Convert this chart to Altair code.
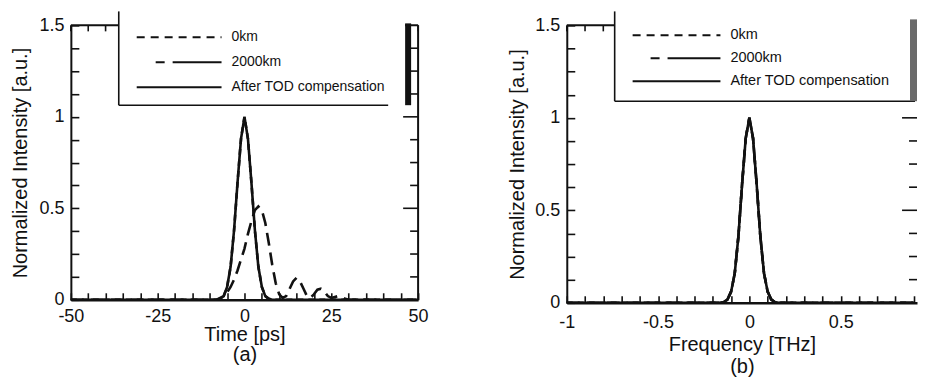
import altair as alt
import pandas as pd

# ---------------- data ----------------
time_ps = [-50, -20, -10, -8, -7, -6, -5, -4, -3, -2, -1, 0, 1, 2, 3, 4, 5, 6, 7, 8,
           9, 10, 11, 12, 13, 14, 15, 16, 17, 18, 19, 20, 21, 22, 23, 24, 25, 26, 27,
           28, 29, 30, 35, 50]
intensity_after_tod = [0, 0, 0, 0, 0.005, 0.02, 0.07, 0.18, 0.38, 0.64, 0.88, 1.0, 0.88,
                       0.64, 0.38, 0.18, 0.07, 0.02, 0.005, 0,
                       0, 0, 0, 0, 0, 0, 0, 0, 0, 0, 0, 0, 0, 0, 0, 0, 0, 0, 0, 0, 0, 0, 0, 0]
intensity_0km = [0, 0, 0, 0, 0.005, 0.02, 0.07, 0.18, 0.38, 0.64, 0.88, 1.0, 0.88,
                 0.64, 0.38, 0.18, 0.07, 0.02, 0.005, 0,
                 0, 0, 0, 0, 0, 0, 0, 0, 0, 0, 0, 0, 0, 0, 0, 0, 0, 0, 0, 0, 0, 0, 0, 0]
intensity_2000km = [0, 0, 0, 0, 0.01, 0.02, 0.04, 0.07, 0.11, 0.16, 0.22, 0.28, 0.36,
                    0.43, 0.49, 0.51, 0.49, 0.42, 0.31, 0.19, 0.09, 0.03, 0.01, 0.02,
                    0.06, 0.1, 0.12, 0.1, 0.06, 0.02, 0.01, 0.03, 0.055, 0.06, 0.045,
                    0.02, 0.01, 0.015, 0.02, 0.015, 0.005, 0, 0, 0]

freq_thz = [-1, -0.3, -0.16, -0.14, -0.12, -0.1, -0.08, -0.06, -0.04, -0.02, 0,
            0.02, 0.04, 0.06, 0.08, 0.1, 0.12, 0.14, 0.16, 0.3, 0.9]
spectrum_0km = [0, 0, 0, 0.004, 0.017, 0.06, 0.16, 0.36, 0.64, 0.89, 1.0,
                0.89, 0.64, 0.36, 0.16, 0.06, 0.017, 0.004, 0, 0, 0]
spectrum_2000km = [0, 0, 0, 0.004, 0.017, 0.06, 0.16, 0.36, 0.64, 0.89, 1.0,
                   0.89, 0.64, 0.36, 0.16, 0.06, 0.017, 0.004, 0, 0, 0]
spectrum_after_tod = [0, 0, 0, 0.004, 0.017, 0.06, 0.16, 0.36, 0.64, 0.89, 1.0,
                      0.89, 0.64, 0.36, 0.16, 0.06, 0.017, 0.004, 0, 0, 0]

series_names = ["0km", "2000km", "After TOD compensation"]

time_domain = [-50, 50]
time_labels = [-50, -25, 0, 25, 50]
time_minor = [-45, -40, -35, -30, -20, -15, -10, -5, 5, 10, 15, 20, 30, 35, 40, 45]
# the right panel is cut by the page edge just before +1 THz
freq_domain = [-1, 0.918]
freq_labels = [-1, -0.5, 0, 0.5]
freq_minor = [-0.9, -0.8, -0.7, -0.6, -0.4, -0.3, -0.2, -0.1, 0.1, 0.2, 0.3, 0.4,
              0.6, 0.7, 0.8, 0.9]
y_labels = [0, 0.5, 1, 1.5]
y_minor = [0.125, 0.25, 0.375, 0.625, 0.75, 0.875, 1.125, 1.25, 1.375]
y_major = [0.5, 1.0]
Y_MAX = 1.5

FONT = "Liberation Sans"
INK = "#111111"


def one_row():
    return alt.Chart(pd.DataFrame({"a": [0]}))


def panel(xvals, series, xdom, xlabels, xminor, label_test, xtitle, W, H, leg,
          bar_color, title_lh, x_lpad, x_title_y, y_tpad, right_frame):
    xs = alt.Scale(domain=xdom, nice=False, zero=False)
    ysc = alt.Scale(domain=[0, Y_MAX], nice=False)
    common = dict(ticks=True, tickColor=INK, tickWidth=1.6, grid=False,
                  domainColor=INK, labelFont=FONT, titleFont=FONT, labelFontSize=18,
                  titleFontSize=20, titleFontWeight="normal", labelColor=INK,
                  titleColor=INK)
    # negative tick size (as an expression) draws the ticks inside the frame
    xaxis = alt.Axis(values=sorted(xlabels + xminor), title=xtitle, labelFlush=False,
                     labelExpr="(" + label_test + ") ? '' + datum.value : ''",
                     tickSize={"expr": "-7"}, domainWidth=2.5,
                     labelPadding=x_lpad + 7, titleY=x_title_y, titleBaseline="top",
                     titleLineHeight=title_lh, **common)
    yaxis = alt.Axis(values=sorted(y_labels + y_minor),
                     labelExpr="(datum.value % 0.5 == 0) ? '' + datum.value : ''",
                     title="Normalized Intensity [a.u.]", tickSize={"expr": "-8"},
                     domainWidth=2, labelPadding=15, titlePadding=y_tpad, **common)

    def X(field):
        return alt.X(field, scale=xs, axis=xaxis)

    def Y(field):
        return alt.Y(field, scale=ysc, axis=yaxis)

    xspan = xdom[1] - xdom[0]
    dy = lambda px: px / H * Y_MAX
    dx = lambda px: px / W * xspan

    layers = []
    dashes = [[6, 5], [13, 7], None]
    for i, name in enumerate(series_names):
        df = pd.DataFrame({"x": xvals, "y": series[i]})
        kw = dict(color=INK, strokeWidth=2.6)
        if dashes[i] is not None:
            kw["strokeDash"] = dashes[i]
        layers.append(alt.Chart(df).mark_line(**kw).encode(x=X("x:Q"), y=Y("y:Q")))

    # inward tick marks on the top and right edges, each a two-point segment
    def ticks(vals, a, b, vertical):
        rows = []
        for k, v in enumerate(vals):
            for end in (a, b):
                if vertical:
                    rows.append({"id": k, "x": v, "y": end})
                else:
                    rows.append({"id": k, "x": end, "y": v})
        return alt.Chart(pd.DataFrame(rows)).mark_line(
            color=INK, strokeWidth=1.6).encode(x=X("x:Q"), y=Y("y:Q"),
                                              detail="id:N")

    layers.append(ticks(sorted(xlabels + xminor), Y_MAX, Y_MAX - dy(6), True))
    layers.append(ticks(y_minor, xdom[1], xdom[1] - dx(8), False))
    layers.append(ticks(y_major, xdom[1], xdom[1] - dx(15), False))

    # top / right frame
    layers.append(one_row().mark_rule(color=INK, strokeWidth=2).encode(
        x=alt.value(0), x2=alt.value(W), y=alt.value(0)))
    if right_frame:
        layers.append(one_row().mark_rule(color=INK, strokeWidth=2).encode(
            x=alt.value(W), y=alt.value(0), y2=alt.value(H)))
    # legend box
    layers.append(one_row().mark_rect(fill="white", stroke=None).encode(
        x=alt.value(leg["bx0"]), x2=alt.value(leg["bx1"]),
        y=alt.value(leg["by0"]), y2=alt.value(leg["by1"])))
    layers.append(one_row().mark_rule(color=INK, strokeWidth=1.6).encode(
        x=alt.value(leg["bx0"]), y=alt.value(leg["by0"]), y2=alt.value(leg["by1"])))
    layers.append(one_row().mark_rule(color=INK, strokeWidth=1.6).encode(
        x=alt.value(leg["bx0"]), x2=alt.value(leg["bline"]), y=alt.value(leg["by1"])))
    layers.append(one_row().mark_rect(fill=bar_color).encode(
        x=alt.value(leg["bar0"]), x2=alt.value(leg["bar1"]),
        y=alt.value(leg["bary0"]), y2=alt.value(leg["by1"])))
    leg_dash = [[8, 6], [9, 8, 100], None]
    for i, name in enumerate(series_names):
        kw = dict(color=INK, strokeWidth=2)
        if leg_dash[i] is not None:
            kw["strokeDash"] = leg_dash[i]
        xs0 = leg["s0b"] if i == 1 else leg["s0"]
        layers.append(one_row().mark_rule(**kw).encode(
            x=alt.value(xs0), x2=alt.value(leg["s1"]), y=alt.value(leg["rows"][i])))
        layers.append(alt.Chart(pd.DataFrame({"label": [name]})).mark_text(
            align="left", baseline="middle", fontSize=leg["fs"], font=FONT, color=INK
        ).encode(x=alt.value(leg["tx"]), y=alt.value(leg["rows"][i]),
                 text=alt.Text("label:N")))
    return alt.layer(*layers).properties(width=W, height=H)


left_leg = dict(bx0=48, bx1=335, by0=-14, by1=80, bline=318, bar0=335, bar1=341,
                bary0=-2, s0=66, s0b=85, s1=151, tx=161, rows=[12, 37, 62], fs=14)
right_leg = dict(bx0=48, bx1=344, by0=-14, by1=76, bline=349, bar0=344, bar1=351,
                 bary0=-6, s0=66, s0b=84, s1=154, tx=164, rows=[10, 33, 56], fs=14.5)

left = panel(time_ps, [intensity_0km, intensity_2000km, intensity_after_tod],
             time_domain, time_labels, time_minor, "datum.value % 25 == 0",
             ["Time [ps]", "(a)"], 348, 275, left_leg, "#111111", 20, 8, 25, 8, True)
right = panel(freq_thz, [spectrum_0km, spectrum_2000km, spectrum_after_tod],
              freq_domain, freq_labels, freq_minor,
              "abs(datum.value * 2 - round(datum.value * 2)) < 0.000001",
              ["Frequency [THz]", "(b)"], 351, 278, right_leg, "#6a6a6a", 22, 11, 32,
              7, False)

chart = alt.hconcat(left, right, spacing=149, bounds="flush").properties(
    padding={"left": 2, "top": 2, "right": 0, "bottom": 0},
    background="white",
).configure_view(stroke=None)

chart.save("out.html", embed_options={"renderer": "svg", "actions": False})
